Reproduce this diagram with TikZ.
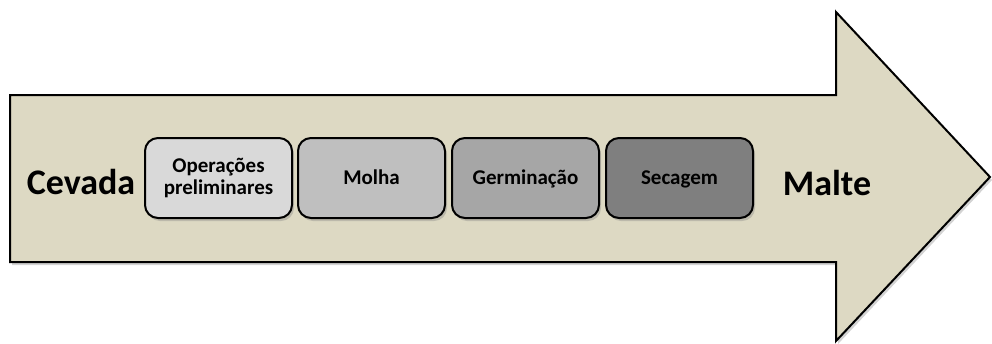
\documentclass[tikz,border=0pt]{standalone}
\usepackage{fontspec}
\setmainfont{Carlito}
\usetikzlibrary{shadows}
\definecolor{arrowfill}{HTML}{DDD9C3}
\definecolor{g1}{HTML}{D9D9D9}
\definecolor{g2}{HTML}{BFBFBF}
\definecolor{g3}{HTML}{A6A6A6}
\definecolor{g4}{HTML}{7F7F7F}
\tikzset{
  stagebox/.style={draw=black, line width=2pt, rounded corners=13pt,
    minimum width=147pt, minimum height=80pt, inner sep=2pt, align=center,
    font=\fontsize{21}{22}\selectfont\bfseries,
    drop shadow={shadow xshift=2pt, shadow yshift=-3pt, opacity=0.35}},
  oneline/.style={text height=13.5pt, text depth=0pt},
  endlabel/.style={font=\fontsize{36}{40}\selectfont\bfseries, inner sep=0pt,
    text height=23pt, text depth=0pt},
}
\begin{document}
\begin{tikzpicture}[x=1pt,y=-1pt]
\useasboundingbox (0,0) rectangle (992,343);
\fill[arrowfill, draw=black, line width=2pt,
  drop shadow={shadow xshift=2pt, shadow yshift=-3pt, opacity=0.35}]
  (10,95) -- (836,95) -- (836,12) -- (990,177) -- (836,341) -- (836,262) -- (10,262) -- cycle;
\node[endlabel] (cevada) at (81,182.5) {Cevada};
\node[stagebox, fill=g1] (op) at (218.5,178) {Operações\\preliminares};
\node[stagebox, oneline, fill=g2] (molha) at (371.5,178) {Molha};
\node[stagebox, oneline, fill=g3] (germ) at (525.5,178) {Germinação};
\node[stagebox, oneline, fill=g4] (sec) at (679.5,178) {Secagem};
\node[endlabel] (malte) at (827,184) {Malte};
\end{tikzpicture}
\end{document}
